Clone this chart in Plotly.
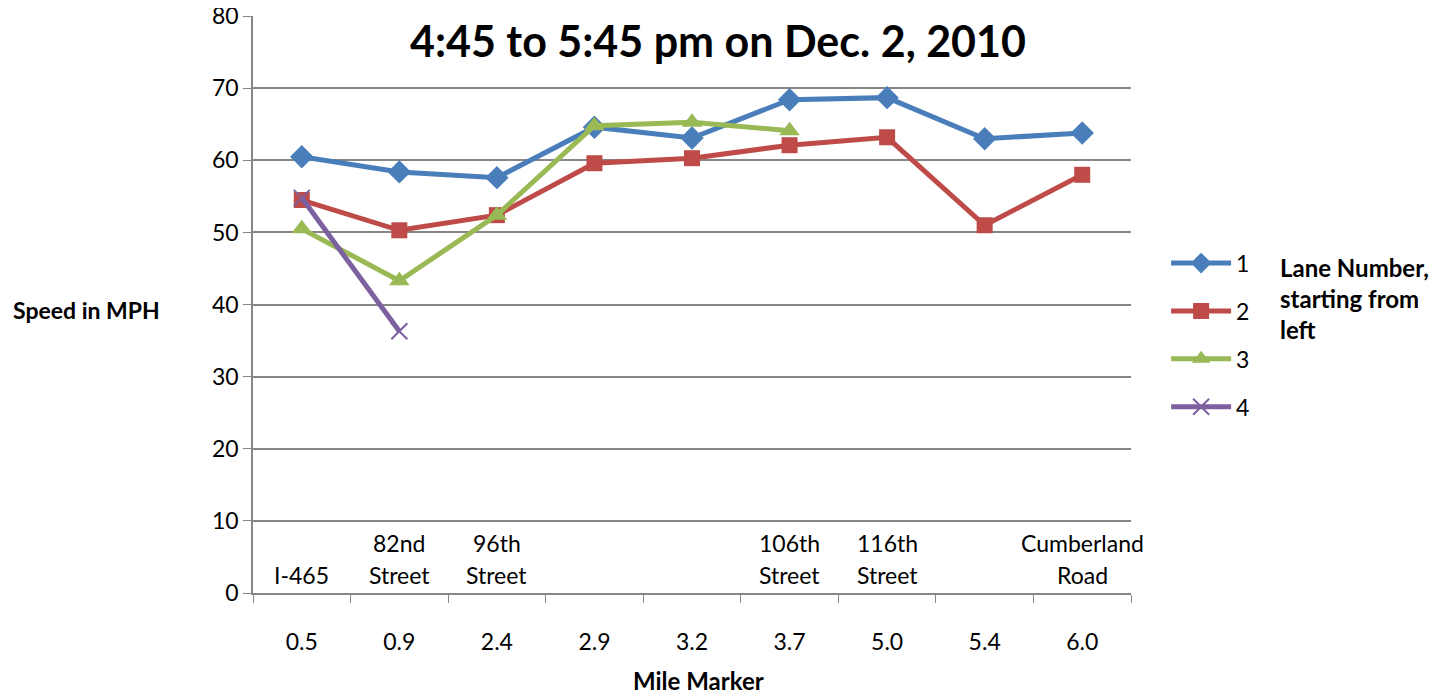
import plotly.graph_objects as go

mile_markers = ["0.5", "0.9", "2.4", "2.9", "3.2", "3.7", "5.0", "5.4", "6.0"]
place_top = ["", "82nd", "96th", "", "", "106th", "116th", "", "Cumberland"]
place_bottom = ["I-465", "Street", "Street", "", "", "Street", "Street", "", "Road"]

lane1 = [60.5, 58.4, 57.6, 64.6, 63.1, 68.4, 68.7, 63.0, 63.8]
lane2 = [54.5, 50.3, 52.4, 59.6, 60.3, 62.1, 63.2, 51.0, 58.0]
lane3 = [50.5, 43.3, 52.4, 64.8, 65.3, 64.1, None, None, None]
lane4 = [54.8, 36.3, None, None, None, None, None, None, None]

FONT = "Lato"
FS = 23
fig = go.Figure()

series = [
    ("1", lane1, "#4A7EBB", "diamond", 18, 0),
    ("2", lane2, "#BE4B48", "square", 16, 0),
    ("3", lane3, "#98B954", "triangle-up", 18, 0),
    ("4", lane4, "#7D60A0", "x-thin", 16, 2),
]
for name, vals, col, sym, size, lw in series:
    fig.add_trace(go.Scatter(
        x=mile_markers, y=vals, name=name, mode="lines+markers",
        line=dict(color=col, width=5),
        marker=dict(symbol=sym, size=size, color=col,
                    line=dict(color=col, width=lw)),
        legendgroup=name, connectgaps=False,
    ))

for i, (t, b) in enumerate(zip(place_top, place_bottom)):
    if b:
        fig.add_annotation(x=i, y=0, text=b, showarrow=False,
                           yanchor="bottom", yshift=2,
                           font=dict(family=FONT, size=FS, color="black"))
    if t:
        fig.add_annotation(x=i, y=0, text=t, showarrow=False,
                           yanchor="bottom", yshift=34,
                           font=dict(family=FONT, size=FS, color="black"))

fig.add_annotation(xref="paper", yref="paper", x=0.530, y=0.958,
                   text="<b>4:45 to 5:45 pm on Dec. 2, 2010</b>",
                   showarrow=False, xanchor="center", yanchor="middle",
                   font=dict(family=FONT, size=43, color="black"))
fig.add_annotation(xref="paper", yref="paper", x=-0.190, y=0.49,
                   text="<b>Speed in MPH</b>", showarrow=False,
                   xanchor="center", yanchor="middle",
                   font=dict(family=FONT, size=FS, color="black"))
fig.add_annotation(xref="paper", yref="paper", x=0.507, y=-0.1525,
                   text="<b>Mile Marker</b>", showarrow=False,
                   xanchor="center", yanchor="middle",
                   font=dict(family=FONT, size=FS + 1, color="black"))
fig.add_annotation(xref="paper", yref="paper", x=1.1674, y=0.511,
                   text="<b>Lane Number,<br>starting from<br>left</b>",
                   showarrow=False, xanchor="left", yanchor="middle", align="left",
                   font=dict(family=FONT, size=FS + 1, color="black"))

fig.update_layout(
    width=1443, height=686,
    margin=dict(l=245, r=320, t=8, b=101),
    paper_bgcolor="white", plot_bgcolor="white",
    font=dict(family=FONT, size=FS, color="black"),
    showlegend=True,
    legend=dict(x=1.04, y=0.609, xanchor="left", yanchor="top",
                tracegroupgap=15, font=dict(size=FS),
                itemwidth=60),
    xaxis=dict(type="category", showgrid=False, showline=True,
               linecolor="#868686", linewidth=1.5,
               ticks="outside", tickson="boundaries", ticklen=8,
               tickcolor="#868686", ticklabelstandoff=28,
               range=[-0.5, 8.5], zeroline=False, automargin=False),
    yaxis=dict(range=[0, 80.02], tickvals=[0, 10, 20, 30, 40, 50, 60, 70, 80],
               showgrid=True, gridcolor="#868686",
               gridwidth=1.5, showline=True, linecolor="#868686", linewidth=1.5,
               ticks="outside", ticklen=8, tickcolor="#868686",
               ticklabeloverflow="allow",
               zeroline=False, automargin=False),
)

fig.write_html("out.html")
